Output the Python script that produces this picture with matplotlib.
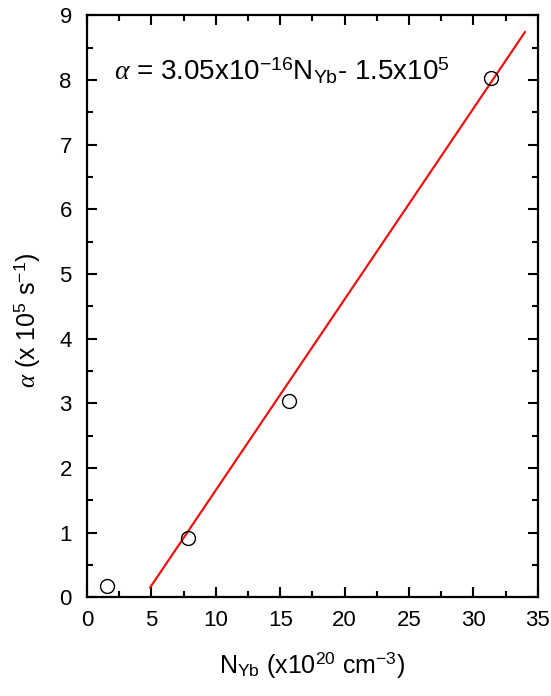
import numpy as np
import matplotlib
matplotlib.use("Agg")
import matplotlib.pyplot as plt
from matplotlib.ticker import MultipleLocator

plt.rcParams['font.family'] = ['Liberation Sans', 'DejaVu Sans']
plt.rcParams['mathtext.fontset'] = 'custom'
plt.rcParams['mathtext.rm'] = 'Liberation Sans'
plt.rcParams['mathtext.it'] = 'Liberation Serif:italic'
plt.rcParams['mathtext.bf'] = 'Liberation Sans:bold'

# measured points
n_yb = [1.55, 7.85, 15.7, 31.4]
alpha = [0.17, 0.91, 3.03, 8.03]

# fitted line end points
fit_x = [4.9, 34.0]
fit_y = [0.15, 8.74]

fig = plt.figure(figsize=(5.51, 6.96), dpi=100)
ax = fig.add_axes([0.158, 0.142, 0.818, 0.836])

ax.plot(fit_x, fit_y, color='#ee1111', lw=1.6, zorder=2)
ax.plot(n_yb, alpha, 'o', mfc='none', mec='black', mew=1.0, ms=10, zorder=3)

ax.set_xlim(0, 35)
ax.set_ylim(0, 9)
ax.xaxis.set_major_locator(MultipleLocator(5))
ax.xaxis.set_minor_locator(MultipleLocator(2.5))
ax.yaxis.set_major_locator(MultipleLocator(1))
ax.yaxis.set_minor_locator(MultipleLocator(0.5))
ax.tick_params(which='both', direction='in', top=True, right=True, width=1.5)
ax.tick_params(which='major', length=7, labelsize=16)
ax.tick_params(axis='x', which='major', pad=9)
ax.tick_params(axis='y', which='major', pad=11)
ax.tick_params(which='minor', length=4)
for s in ax.spines.values():
    s.set_linewidth(1.6)

ax.set_xlabel(r'N$_{\rm Yb}$ (x10$^{20}$ cm$^{-3}$)', fontsize=18, labelpad=14)
ax.set_ylabel(r'$\alpha$ (x 10$^5$ s$^{-1}$)', fontsize=18)
ax.yaxis.set_label_coords(-0.10, 0.475)

ax.text(0.06, 0.905, r'$\alpha$ = 3.05x10$^{-16}$N$_{\rm Yb}$- 1.5x10$^5$',
        transform=ax.transAxes, fontsize=20, va='center', ha='left')

fig.savefig('out.png', dpi=100)
